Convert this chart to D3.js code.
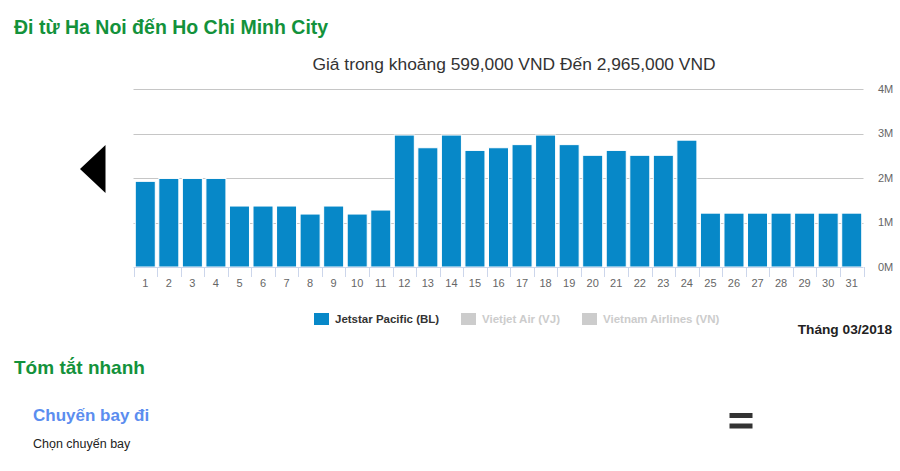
<!DOCTYPE html>
<html>
<head>
<meta charset="utf-8">
<script src="https://cdn.jsdelivr.net/npm/d3@7/dist/d3.min.js"></script>
<style>
  html, body { margin: 0; padding: 0; background: #fff; }
  svg { display: block; }
  text { font-family: "Liberation Sans", Arial, sans-serif; }
</style>
</head>
<body>
<div id="chart"></div>
<script>
// ---- data ----
const days = d3.range(1, 32).map(String);
const jetstarPrices = [
  1925000, 1990000, 1990000, 1990000, 1370000, 1370000, 1370000, 1190000,
  1370000, 1190000, 1280000, 2965000, 2680000, 2965000, 2620000, 2680000,
  2750000, 2965000, 2750000, 2510000, 2620000, 2510000, 2510000, 2850000,
  1210000, 1210000, 1210000, 1210000, 1210000, 1210000, 1210000
];
const yTicks = [0, 1000000, 2000000, 3000000, 4000000];
const legendItems = [
  { name: "Jetstar Pacific (BL)", active: true },
  { name: "Vietjet Air (VJ)", active: false },
  { name: "Vietnam Airlines (VN)", active: false }
];
const pageTitle = "Đi từ Ha Noi đến Ho Chi Minh City";
const chartTitle = "Giá trong khoảng 599,000 VND Đến 2,965,000 VND";
const monthLabel = "Tháng 03/2018";
const summaryTitle = "Tóm tắt nhanh";
const flightTitle = "Chuyến bay đi";
const flightSub = "Chọn chuyến bay";

// ---- layout ----
const W = 900, H = 471;
const svg = d3.select("#chart").append("svg").attr("width", W).attr("height", H);

const x = d3.scaleBand().domain(days).range([133.5, 863.5]).padding(0);
const y = d3.scaleLinear().domain([0, 4000000]).range([267, 89]);

// headings
svg.append("text").attr("x", 14).attr("y", 34).text(pageTitle)
  .attr("font-size", 19.5).attr("font-weight", "bold").attr("fill", "#13923b");

svg.append("text").attr("x", 514).attr("y", 70).attr("text-anchor", "middle")
  .text(chartTitle).attr("font-size", 17.4).attr("fill", "#333");

// gridlines
svg.append("g").selectAll("line").data(yTicks.slice(1)).join("line")
  .attr("x1", x.range()[0]).attr("x2", x.range()[1])
  .attr("y1", d => Math.round(y(d)) + 0.5).attr("y2", d => Math.round(y(d)) + 0.5)
  .attr("stroke", "#c6c6c6").attr("stroke-width", 1);

// y labels (right)
svg.append("g").selectAll("text").data(yTicks).join("text")
  .attr("x", 878).attr("y", d => y(d)).attr("dy", "0.35em")
  .attr("font-size", 11).attr("fill", "#666")
  .text(d => d3.format("d")(d / 1000000) + "M");

// bars
const bw = x.bandwidth() * 0.85;
svg.append("g").selectAll("rect").data(jetstarPrices).join("rect")
  .attr("x", (d, i) => x(days[i]) + (x.bandwidth() - bw) / 2)
  .attr("y", d => y(d))
  .attr("width", bw)
  .attr("height", d => y(0) - y(d))
  .attr("fill", "#0788c8")
  .attr("stroke", "#ffffff").attr("stroke-width", 1);

// x axis
const gx = svg.append("g").attr("transform", `translate(0,${y(0)})`);
gx.append("line").attr("x1", x.range()[0]).attr("x2", x.range()[1])
  .attr("y1", 0.5).attr("y2", 0.5).attr("stroke", "#ccd6eb");
gx.selectAll("line.tk").data(days.concat(["end"])).join("line").attr("class", "tk")
  .attr("x1", (d, i) => Math.round(x.range()[0] + i * x.step()) + 0.5)
  .attr("x2", (d, i) => Math.round(x.range()[0] + i * x.step()) + 0.5)
  .attr("y1", 0).attr("y2", 10).attr("stroke", "#ccd6eb");
gx.selectAll("text.lb").data(days).join("text").attr("class", "lb")
  .attr("x", d => x(d) + x.bandwidth() / 2).attr("y", 16).attr("dy", "0.35em")
  .attr("text-anchor", "middle").attr("font-size", 11).attr("fill", "#666")
  .text(d => d);

// left arrow
svg.append("path").attr("d", d3.line()([[80, 169], [105.5, 145], [105.5, 193]]) + "Z")
  .attr("fill", "#000");

// legend
const legendX = [314, 461, 582];
const lg = svg.append("g").selectAll("g").data(legendItems).join("g")
  .attr("transform", (d, i) => `translate(${legendX[i]},313)`);
lg.append("rect").attr("width", 15).attr("height", 12)
  .attr("fill", d => d.active ? "#0788c8" : "#cccccc");
lg.append("text").attr("x", 21).attr("y", 6).attr("dy", "0.35em")
  .attr("font-size", 11.5).attr("font-weight", "bold")
  .attr("fill", d => d.active ? "#333" : "#cccccc")
  .text(d => d.name);

svg.append("text").attr("x", 892).attr("y", 334).attr("text-anchor", "end")
  .attr("font-size", 13.7).attr("font-weight", "bold").attr("fill", "#222")
  .text(monthLabel);

// summary section
svg.append("text").attr("x", 14).attr("y", 374).text(summaryTitle)
  .attr("font-size", 19).attr("font-weight", "bold").attr("fill", "#13923b");
svg.append("text").attr("x", 33).attr("y", 421).text(flightTitle)
  .attr("font-size", 17).attr("font-weight", "bold").attr("fill", "#5b8def");
svg.append("text").attr("x", 33).attr("y", 448).text(flightSub)
  .attr("font-size", 12.5).attr("fill", "#222");

// equals icon
svg.append("g").selectAll("rect").data([413, 423.5]).join("rect")
  .attr("x", 729.5).attr("y", d => d).attr("width", 23).attr("height", 5)
  .attr("fill", "#333");
</script>
</body>
</html>
